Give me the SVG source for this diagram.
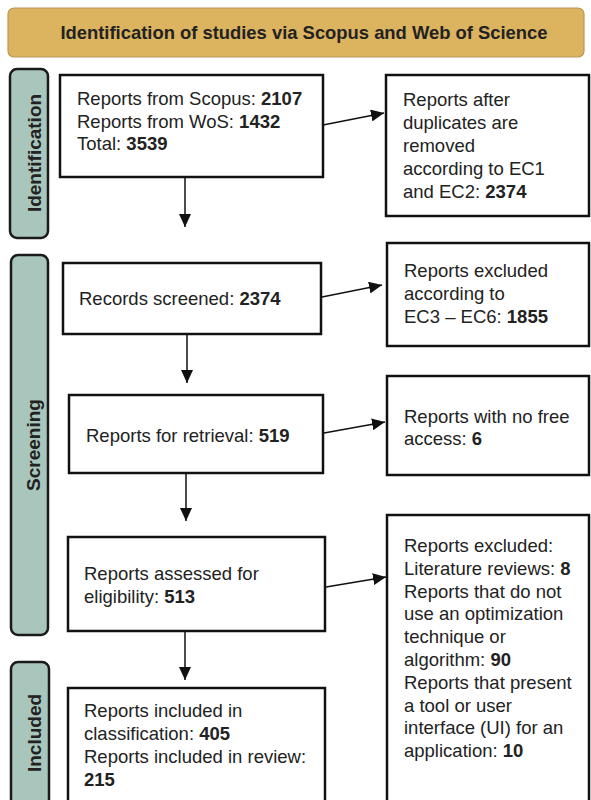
<svg xmlns="http://www.w3.org/2000/svg" width="591" height="800" viewBox="0 0 591 800">
<defs>
<style>
.box{fill:#fff;stroke:#111;stroke-width:2.5}
.lab{fill:#a9c6bd;stroke:#1a1a1a;stroke-width:2.5}
.t{font-family:"Liberation Sans",Arial,sans-serif;font-size:18.5px;fill:#222}
.b{font-weight:bold}
.lt{font-family:"Liberation Sans",Arial,sans-serif;font-size:19px;font-weight:bold;fill:#222;text-anchor:middle}
.con{stroke:#111;stroke-width:1.5;fill:none;marker-end:url(#ah)}
</style>
<marker id="ah" markerUnits="userSpaceOnUse" markerWidth="14" markerHeight="12" refX="13" refY="6" orient="auto">
<path d="M0,0 L13,6 L0,12 Z" fill="#111"/>
</marker>
</defs>
<rect width="591" height="800" fill="#fff"/>
<g id="header">
<rect x="8" y="8" width="576" height="49" rx="6" fill="#dcb35f" stroke="#b8975a" stroke-width="1.2"/>
<text x="304" y="39" class="lt" style="font-size:18.4px">Identification of studies via Scopus and Web of Science</text>
</g>
<g id="label-identification">
<rect x="10" y="69" width="38" height="169" rx="7" class="lab"/>
<text class="lt" transform="translate(41,153) rotate(-90)">Identification</text>
</g>
<g id="label-screening">
<rect x="11" y="255" width="37" height="380" rx="7" class="lab"/>
<text class="lt" transform="translate(40,445) rotate(-90)">Screening</text>
</g>
<g id="label-included">
<rect x="11" y="662" width="38" height="150" rx="7" class="lab"/>
<text class="lt" transform="translate(41,733) rotate(-90)">Included</text>
</g>
<g id="n1">
<rect x="60" y="75" width="263" height="102" class="box"/>
<text class="t" x="77" y="105">Reports from Scopus: <tspan class="b">2107</tspan></text>
<text class="t" x="77" y="127.5">Reports from WoS: <tspan class="b">1432</tspan></text>
<text class="t" x="77" y="150">Total: <tspan class="b">3539</tspan></text>
</g>
<g id="n2">
<rect x="386" y="75" width="203" height="141" class="box"/>
<text class="t" x="403" y="106">Reports after</text>
<text class="t" x="403" y="129">duplicates are</text>
<text class="t" x="403" y="152">removed</text>
<text class="t" x="403" y="175">according to EC1</text>
<text class="t" x="403" y="198">and EC2: <tspan class="b">2374</tspan></text>
</g>
<g id="n3">
<rect x="63" y="263" width="258" height="71" class="box"/>
<text class="t" x="79" y="305">Records screened: <tspan class="b">2374</tspan></text>
</g>
<g id="n4">
<rect x="387" y="243" width="202" height="103" class="box"/>
<text class="t" x="404" y="277">Reports excluded</text>
<text class="t" x="404" y="300">according to</text>
<text class="t" x="404" y="323">EC3 – EC6: <tspan class="b">1855</tspan></text>
</g>
<g id="n5">
<rect x="69" y="395" width="254" height="78" class="box"/>
<text class="t" x="86" y="442">Reports for retrieval: <tspan class="b">519</tspan></text>
</g>
<g id="n6">
<rect x="387" y="376" width="202" height="99" class="box"/>
<text class="t" x="404" y="423">Reports with no free</text>
<text class="t" x="404" y="445">access: <tspan class="b">6</tspan></text>
</g>
<g id="n7">
<rect x="68" y="537" width="257" height="94" class="box"/>
<text class="t" x="84" y="580">Reports assessed for</text>
<text class="t" x="84" y="603">eligibility: <tspan class="b">513</tspan></text>
</g>
<g id="n8">
<rect x="387" y="515" width="202" height="300" class="box"/>
<text class="t" x="404" y="552">Reports excluded:</text>
<text class="t" x="404" y="574.8">Literature reviews: <tspan class="b">8</tspan></text>
<text class="t" x="404" y="597.6">Reports that do not</text>
<text class="t" x="404" y="620.4">use an optimization</text>
<text class="t" x="404" y="643.2">technique or</text>
<text class="t" x="404" y="666">algorithm: <tspan class="b">90</tspan></text>
<text class="t" x="404" y="688.8">Reports that present</text>
<text class="t" x="404" y="711.6">a tool or user</text>
<text class="t" x="404" y="734.4">interface (UI) for an</text>
<text class="t" x="404" y="757.2">application: <tspan class="b">10</tspan></text>
</g>
<g id="n9">
<rect x="68" y="688" width="257" height="130" class="box"/>
<text class="t" x="84" y="717">Reports included in</text>
<text class="t" x="84" y="740">classification: <tspan class="b">405</tspan></text>
<text class="t" x="84" y="763">Reports included in review:</text>
<text class="t" x="84" y="786"><tspan class="b">215</tspan></text>
</g>
<g id="connectors">
<line x1="185" y1="177" x2="185" y2="227" class="con"/>
<line x1="323" y1="125" x2="384" y2="113" class="con"/>
<line x1="322" y1="297" x2="382" y2="285" class="con"/>
<line x1="187" y1="334" x2="187" y2="383" class="con"/>
<line x1="324" y1="433" x2="385" y2="422" class="con"/>
<line x1="186" y1="473" x2="186" y2="521" class="con"/>
<line x1="326" y1="587" x2="386" y2="577" class="con"/>
<line x1="185" y1="631" x2="185" y2="680" class="con"/>
</g>
</svg>
